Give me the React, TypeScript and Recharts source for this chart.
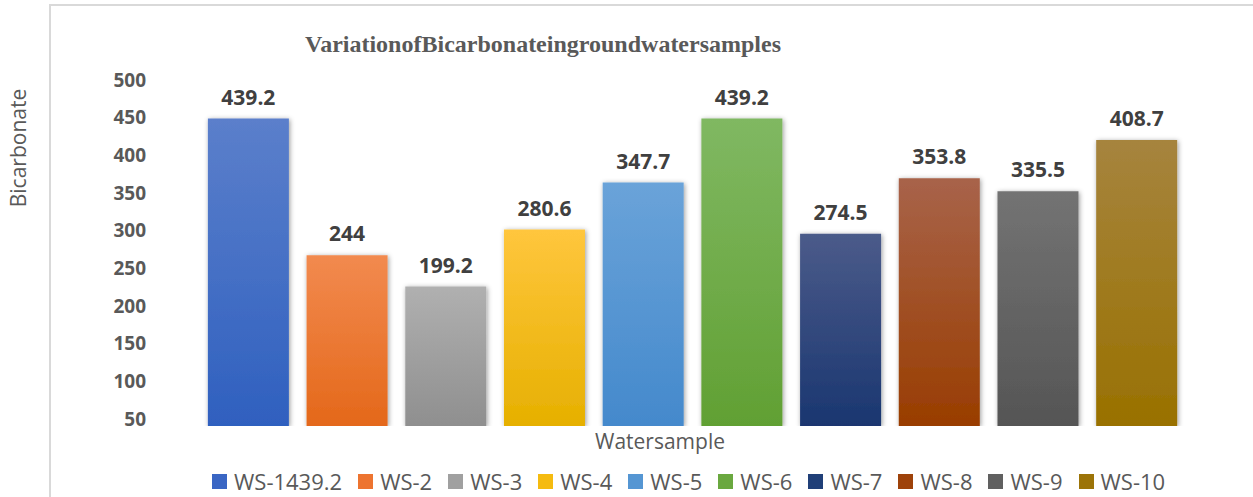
import { Bar, ComposedChart, Cell, LabelList, Line, XAxis, YAxis } from "recharts";

const samples = ["WS-1", "WS-2", "WS-3", "WS-4", "WS-5", "WS-6", "WS-7", "WS-8", "WS-9", "WS-10"];
const bicarbonate = [439.2, 244, 199.2, 280.6, 347.7, 439.2, 274.5, 353.8, 335.5, 408.7];
const legendLabels = ["WS-1439.2", "WS-2", "WS-3", "WS-4", "WS-5", "WS-6", "WS-7", "WS-8", "WS-9", "WS-10"];
const yTicks = [50, 100, 150, 200, 250, 300, 350, 400, 450, 500];

const topColors = ["#5b7fcb", "#f28a4f", "#b0b0b0", "#ffc63d", "#6aa3d9", "#80b862", "#4b5b8a", "#a8634a", "#737373", "#a6843e"];
const bottomColors = ["#2f60bf", "#e4681a", "#8f8f8f", "#e6b000", "#4489cc", "#61a033", "#1a3670", "#993d00", "#555555", "#997100"];
const legendColors = ["#3a66c4", "#ed7430", "#a0a0a0", "#f5bb10", "#5596d3", "#6aa83f", "#203f78", "#9e420a", "#606060", "#9c7408"];

const data = samples.map((s, i) => ({ sample: s, value: bicarbonate[i] }));

const sans = "'Open Sans', 'Noto Sans', sans-serif";

export default function App() {
  return (
    <div style={{ position: "fixed", left: 0, top: 0, width: 1253, height: 497, background: "#fff", overflow: "hidden" }}>
      <div
        style={{
          position: "absolute",
          left: 49,
          top: 4,
          width: 1300,
          height: 600,
          borderLeft: "2px solid #d9d9d9",
          borderTop: "2px solid #d9d9d9",
        }}
      />
      <div
        style={{
          position: "absolute",
          left: 305,
          top: 29,
          fontFamily: "'Liberation Serif', 'Times New Roman', serif",
          fontWeight: "bold",
          fontSize: 24,
          color: "#595959",
          whiteSpace: "nowrap",
          lineHeight: "30px",
        }}
      >
        VariationofBicarbonateingroundwatersamples
      </div>
      <div
        style={{
          position: "absolute",
          left: 18,
          top: 148,
          transform: "translate(-50%, -50%) rotate(-90deg)",
          fontFamily: sans,
          fontSize: 21,
          color: "#595959",
          whiteSpace: "nowrap",
        }}
      >
        Bicarbonate
      </div>
      <div
        style={{
          position: "absolute",
          left: 660,
          top: 441,
          transform: "translate(-50%, -50%)",
          fontFamily: sans,
          fontSize: 21,
          color: "#595959",
          whiteSpace: "nowrap",
        }}
      >
        Watersample
      </div>
      <ComposedChart
        width={1253}
        height={497}
        data={data}
        margin={{ top: 70, right: 67, bottom: 71, left: 139 }}
        barCategoryGap="9%"
      >
        <defs>
          {topColors.map((c, i) => (
            <linearGradient key={i} id={`grad${i}`} x1="0" y1="0" x2="0" y2="1">
              <stop offset="0%" stopColor={c} />
              <stop offset="100%" stopColor={bottomColors[i]} />
            </linearGradient>
          ))}
          <filter id="barShadow" x="-20%" y="-10%" width="140%" height="120%">
            <feDropShadow dx="1" dy="1" stdDeviation="2.5" floodColor="#000" floodOpacity="0.4" />
          </filter>
        </defs>
        <XAxis dataKey="sample" hide />
        <YAxis yAxisId="bars" hide width={0} domain={[0, 508.6]} allowDataOverflow />
        <YAxis
          yAxisId="labels"
          orientation="left"
          width={60}
          type="number"
          domain={[40.7, 513.3]}
          allowDataOverflow
          ticks={yTicks}
          interval={0}
          axisLine={false}
          tickLine={false}
          tickSize={0}
          tickMargin={53}
          tick={{ fill: "#595959", fontSize: 19, fontWeight: "bold", fontFamily: sans }}
        />
        <Bar yAxisId="bars" dataKey="value" isAnimationActive={false} filter="url(#barShadow)">
          {data.map((d, i) => (
            <Cell key={d.sample} fill={`url(#grad${i})`} />
          ))}
          <LabelList
            dataKey="value"
            position="top"
            offset={14}
            fill="#404040"
            fontSize={21}
            fontWeight="bold"
            fontFamily={sans}
          />
        </Bar>
        <Line
          yAxisId="labels"
          dataKey="value"
          stroke="none"
          dot={false}
          activeDot={false}
          legendType="none"
          isAnimationActive={false}
        />
      </ComposedChart>
      <div
        style={{
          position: "absolute",
          left: 212,
          top: 469,
          display: "flex",
          alignItems: "center",
          fontFamily: sans,
          fontSize: 22,
          color: "#595959",
          whiteSpace: "nowrap",
          lineHeight: "24px",
        }}
      >
        {legendLabels.map((l, i) => (
          <div key={l} style={{ display: "flex", alignItems: "center", marginRight: 16 }}>
            <span
              style={{
                display: "inline-block",
                width: 15,
                height: 15,
                marginRight: 7,
                background: legendColors[i],
              }}
            />
            <span>{l}</span>
          </div>
        ))}
      </div>
    </div>
  );
}
